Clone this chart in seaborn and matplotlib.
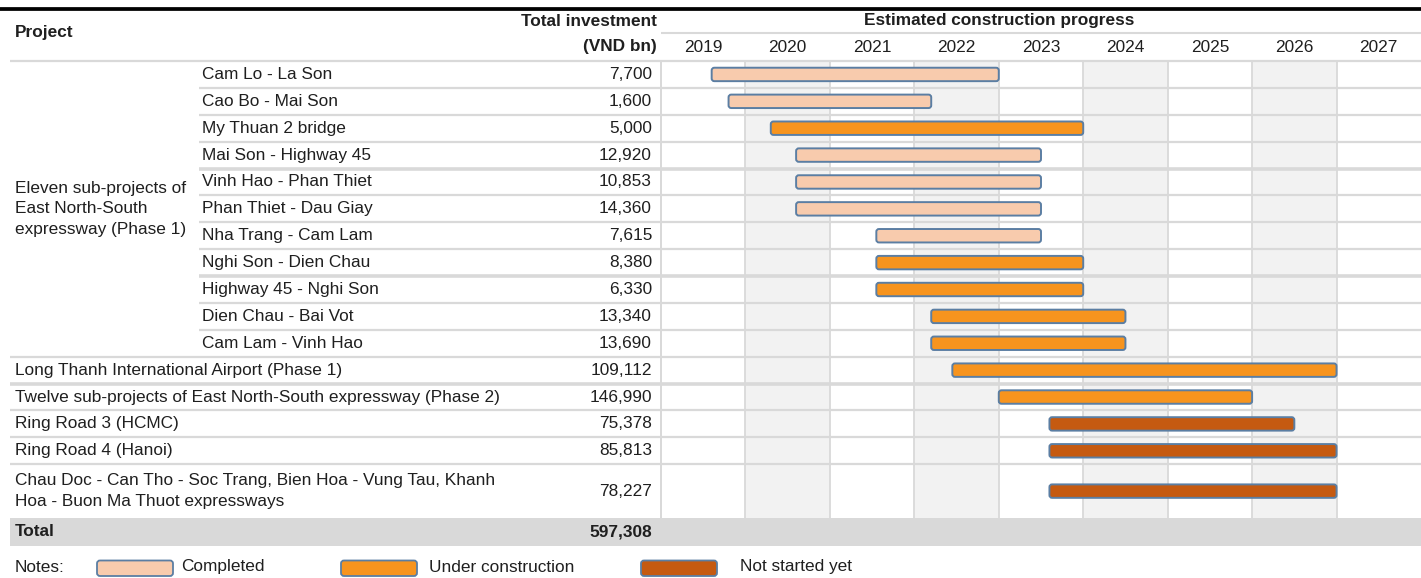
import numpy as np
import pandas as pd
import matplotlib
matplotlib.use("Agg")
import matplotlib.pyplot as plt
import seaborn as sns
from matplotlib.patches import FancyBboxPatch, Rectangle
from matplotlib import font_manager as fm

# ---------------- data ----------------
projects = [
    "Cam Lo - La Son",
    "Cao Bo - Mai Son",
    "My Thuan 2 bridge",
    "Mai Son - Highway 45",
    "Vinh Hao - Phan Thiet",
    "Phan Thiet - Dau Giay",
    "Nha Trang - Cam Lam",
    "Nghi Son - Dien Chau",
    "Highway 45 - Nghi Son",
    "Dien Chau - Bai Vot",
    "Cam Lam - Vinh Hao",
    "Long Thanh International Airport (Phase 1)",
    "Twelve sub-projects of East North-South expressway (Phase 2)",
    "Ring Road 3 (HCMC)",
    "Ring Road 4 (Hanoi)",
    "Chau Doc - Can Tho - Soc Trang, Bien Hoa - Vung Tau, Khanh\nHoa - Buon Ma Thuot expressways",
]
group_name = "Eleven sub-projects of\nEast North-South\nexpressway (Phase 1)"
groups = [group_name] * 11 + [None] * 5
investment = [7700, 1600, 5000, 12920, 10853, 14360, 7615, 8380, 6330,
              13340, 13690, 109112, 146990, 75378, 85813, 78227]
start = [2019.6, 2019.8, 2020.3, 2020.6, 2020.6, 2020.6, 2021.55, 2021.55,
         2021.55, 2022.2, 2022.2, 2022.45, 2023.0, 2023.6, 2023.6, 2023.6]
end = [2023.0, 2022.2, 2024.0, 2023.5, 2023.5, 2023.5, 2023.5, 2024.0,
       2024.0, 2024.5, 2024.5, 2027.0, 2026.0, 2026.5, 2027.0, 2027.0]
status = ["Completed", "Completed", "Under construction", "Completed",
          "Completed", "Completed", "Completed", "Under construction",
          "Under construction", "Under construction", "Under construction",
          "Under construction", "Under construction", "Not started yet",
          "Not started yet", "Not started yet"]
status_order = ["Completed", "Under construction", "Not started yet"]
years = list(range(2019, 2028))
header_project = "Project"
header_invest = ["Total investment", "(VND bn)"]
header_progress = "Estimated construction progress"
total_label = "Total"
notes_label = "Notes:"

# ---------------- style ----------------
colors = {"Completed": "#F8CBAD", "Under construction": "#F7941E",
          "Not started yet": "#C55A11"}
edge_col = "#5B7EA3"
line_col = "#D9D9D9"
shade_col = "#F2F2F2"
text_col = "#1F1F1F"

sns.set_theme(style="white")
avail = {f.name for f in fm.fontManager.ttflist}
fam = "Liberation Sans Narrow" if "Liberation Sans Narrow" in avail else "Liberation Sans"
plt.rcParams["font.family"] = [fam, "DejaVu Sans"]
FS = 12.4

W, H = 1421, 578
fig = plt.figure(figsize=(W / 100, H / 100), dpi=100)
fig.patch.set_facecolor("white")

# row geometry (wrapped labels get taller rows)
heights = [1 + p.count("\n") for p in projects]
edges = np.concatenate([[0], np.cumsum(heights)])
ypos = (edges[:-1] + edges[1:]) / 2
n_units = edges[-1]

TOP_PX, ROW0_PX, ROWS_END_PX, BOT_PX = 8, 61, 518, 546
r = (ROWS_END_PX - ROW0_PX) / n_units
y_top = -(ROW0_PX - TOP_PX) / r
y_bot = n_units + (BOT_PX - ROWS_END_PX) / r
ax_b = 1 - BOT_PX / H
ax_h = (BOT_PX - TOP_PX) / H
GX0 = 661

axG = fig.add_axes([GX0 / W, ax_b, (W - GX0) / W, ax_h])
axT = fig.add_axes([0, ax_b, 1, ax_h])
axG.set_zorder(1)
axT.set_zorder(2)

# ---------------- gantt ----------------
for i, yr in enumerate(years):
    if i % 2 == 1:
        axG.fill_betweenx([0, n_units], yr, yr + 1, color=shade_col, lw=0, zorder=0)

df = pd.DataFrame(dict(project=projects, start=start, end=end,
                       status=status, ypos=ypos))
df["duration"] = df["end"] - df["start"]
for st in status_order:
    sub = df[df["status"] == st].sort_values("ypos")
    sns.barplot(data=sub, x="duration", y="ypos", orient="y", native_scale=True,
                left=sub["start"].to_numpy(), width=0.5, color=colors[st],
                saturation=1, errorbar=None, ax=axG, zorder=3)

axG.set_xlim(years[0], years[-1] + 1)
axG.set_ylim(y_bot, y_top)

# rounded bars
px_x = (W - GX0) / (years[-1] + 1 - years[0])
asp = px_x / r
for p in list(axG.patches):
    if isinstance(p, Rectangle):
        x, y, w, h = p.get_x(), p.get_y(), p.get_width(), p.get_height()
        fc = p.get_facecolor()
        p.remove()
        axG.add_patch(FancyBboxPatch((x, y), w, h,
                                     boxstyle="round,pad=0,rounding_size=0.032",
                                     mutation_aspect=asp, fc=fc, ec=edge_col,
                                     lw=1.4, zorder=3))

axG.vlines(years, 0, n_units, color=line_col, lw=1.3, zorder=1, clip_on=False)
axG.hlines(-(ROW0_PX - 33) / r, years[0], years[-1] + 1, color=line_col, lw=1.5,
           clip_on=False)
for yr in years:
    axG.text(yr + 0.5, -(ROW0_PX - 47) / r, str(yr), ha="center", va="center",
             fontsize=FS, color=text_col)
axG.text((years[0] + years[-1] + 1) / 2 - 0.5, -(ROW0_PX - 20) / r, header_progress,
         ha="center", va="center", fontsize=FS, fontweight="bold", color=text_col)
axG.set_axis_off()

# ---------------- table ----------------
axT.set_xlim(0, W)
axT.set_ylim(y_bot, y_top)
axT.set_axis_off()

axT.axhline(-(ROW0_PX - 9.5) / r, color="black", lw=2.7, clip_on=False)
axT.text(15, -(ROW0_PX - 33) / r, header_project, ha="left", va="center",
         fontsize=FS, fontweight="bold", color=text_col)
axT.text(657, -(ROW0_PX - 22) / r, header_invest[0], ha="right", va="center",
         fontsize=FS, fontweight="bold", color=text_col)
axT.text(657, -(ROW0_PX - 47) / r, header_invest[1], ha="right", va="center",
         fontsize=FS, fontweight="bold", color=text_col)

axT.hlines(0, 10, W, color=line_col, lw=1.6)
thick_after = {3, 7, 11}
for i, (name, g, val, yc) in enumerate(zip(projects, groups, investment, ypos)):
    xl = 202 if g else 15
    axT.text(xl, yc, name, ha="left", va="center", fontsize=FS, color=text_col,
             linespacing=1.55)
    axT.text(652, yc, f"{val:,}", ha="right", va="center", fontsize=FS,
             color=text_col)
    if i < len(projects) - 1:
        xs = 199 if (g is not None and groups[i + 1] == g) else 10
        axT.hlines(edges[i + 1], xs, W, color=line_col,
                   lw=2.6 if i in thick_after else 1.6)

# group label
gidx = [i for i, g in enumerate(groups) if g == group_name]
gy = (edges[gidx[0]] + edges[gidx[-1] + 1]) / 2
axT.text(15, gy, group_name, ha="left", va="center", fontsize=FS,
         color=text_col, linespacing=1.45)

# vertical separator between table and gantt
axT.vlines(GX0, 0, n_units, color=line_col, lw=1.3)

# total row
axT.fill_between([10, W], n_units, y_bot, color=line_col, lw=0)
axT.text(15, (n_units + y_bot) / 2, total_label, ha="left", va="center",
         fontsize=FS, fontweight="bold", color=text_col)
axT.text(652, (n_units + y_bot) / 2, f"{sum(investment):,}", ha="right",
         va="center", fontsize=FS, fontweight="bold", color=text_col)

# ---------------- legend ----------------
axL = fig.add_axes([0, 0, 1, 1], zorder=3)
axL.set_xlim(0, W)
axL.set_ylim(H, 0)
axL.set_axis_off()
axL.text(15, 568, notes_label, ha="left", va="center", fontsize=FS, color=text_col)
leg_box_x = [97, 341, 641]
leg_txt_x = [181, 429, 740]
for st, bx, tx in zip(status_order, leg_box_x, leg_txt_x):
    axL.add_patch(FancyBboxPatch((bx, 560.5), 76, 15.5,
                                 boxstyle="round,pad=0,rounding_size=3",
                                 fc=colors[st], ec=edge_col, lw=1.3))
    axL.text(tx, 567, st, ha="left", va="center", fontsize=FS, color=text_col)

fig.savefig("out.png", dpi=100, facecolor="white")
